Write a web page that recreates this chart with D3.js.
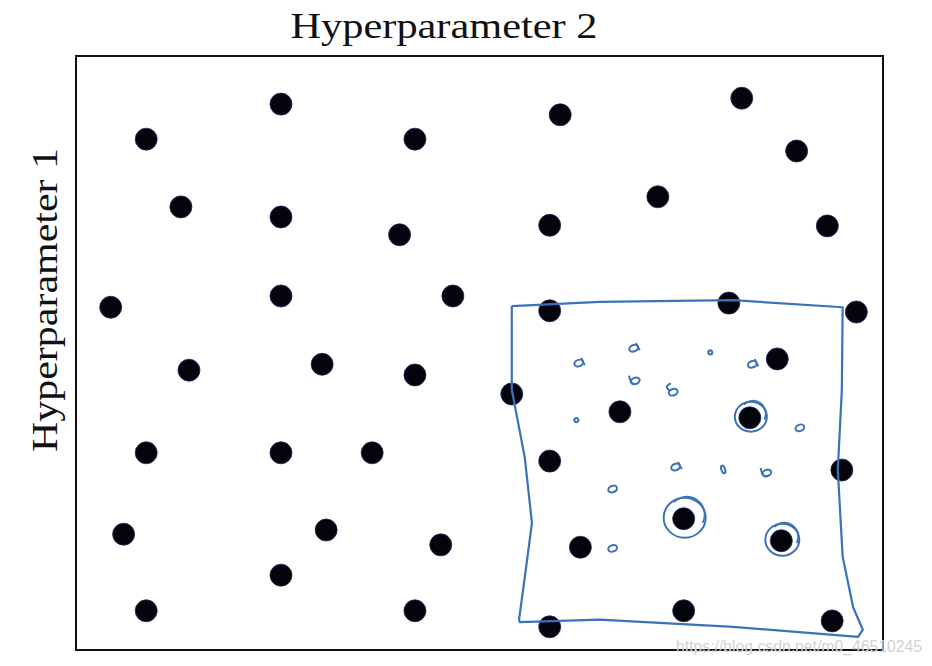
<!DOCTYPE html>
<meta charset="utf-8">
<style>
  body { margin: 0; background: #fff; }
  .title { font-family: 'Liberation Serif', serif; font-size: 36px; fill: #111; }
  .watermark { font-family: 'Liberation Sans', sans-serif; font-size: 16px; fill: #d2d2d2; }
</style>
<body>
  <div id="chart"></div>
  <script src="https://d3js.org/d3.v7.min.js"></script>
  <script>
    // grid search points (hyperparameter 2 on x, hyperparameter 1 on y), 0-10 units
    var hp2 = [0.87, 2.54, 4.20, 6.00, 8.25, 8.93,
               1.30, 2.54, 4.01, 5.87, 7.21, 9.31,
               0.43, 2.54, 4.67, 5.87, 8.09, 9.67,
               1.40, 3.05, 4.20, 5.40, 6.74, 8.69, 8.35,
               0.87, 2.54, 3.67, 5.87, 9.49,
               0.59, 3.10, 4.52, 6.25, 7.53, 8.74,
               2.54,
               0.87, 4.20, 5.87, 7.53, 9.37];
    var hp1 = [8.60, 9.19, 8.60, 9.01, 9.29, 8.40,
               7.46, 7.29, 6.99, 7.15, 7.63, 7.14,
               5.77, 5.96, 5.96, 5.71, 5.84, 5.69,
               4.71, 4.81, 4.63, 4.31, 4.01, 4.90, 3.91,
               3.32, 3.32, 3.32, 3.18, 3.03,
               1.95, 2.02, 1.77, 1.73, 2.21, 1.84,
               1.26,
               0.66, 0.66, 0.39, 0.66, 0.49];

    // hand drawn zoom-in region (coarse to fine)
    var boxX = [5.40, 6.49, 8.14, 9.50, 9.49, 9.44, 9.50, 9.63, 9.75, 9.69, 8.14, 6.49, 5.50, 5.49, 5.54, 5.65, 5.56, 5.40, 5.40];
    var boxY = [5.79, 5.86, 5.89, 5.77, 4.38, 3.03, 1.57, 0.72, 0.34, 0.22, 0.39, 0.51, 0.47, 0.51, 1.01, 2.14, 3.25, 4.38, 5.79];

    // finer samples scribbled inside the box
    var noteX = [6.23, 6.91, 7.86, 8.38, 6.93, 7.40, 6.20, 8.97, 7.43, 8.02, 8.56, 6.65, 6.65];
    var noteY = [4.83, 5.08, 5.01, 4.81, 4.53, 4.34, 3.87, 3.74, 3.08, 3.04, 2.98, 2.71, 1.71];

    // points circled as the best ones
    var bestX = [8.35, 7.53, 8.74];
    var bestY = [3.91, 2.21, 1.84];

    var width = 932, height = 666;
    var margin = { top: 56, right: 49, bottom: 16, left: 76 };
    var blue = "#3b72b8";

    var svg = d3.select("#chart").append("svg")
      .attr("width", width)
      .attr("height", height);

    var x = d3.scaleLinear().domain([0, 10]).range([margin.left, width - margin.right]);
    var y = d3.scaleLinear().domain([0, 10]).range([height - margin.bottom, margin.top]);

    // frame
    svg.append("rect")
      .attr("x", x(0)).attr("y", y(10))
      .attr("width", x(10) - x(0)).attr("height", y(0) - y(10))
      .attr("fill", "none").attr("stroke", "#111").attr("stroke-width", 2);

    // titles
    svg.append("text").attr("class", "title")
      .attr("x", 444).attr("y", 38)
      .attr("text-anchor", "middle")
      .attr("textLength", 307).attr("lengthAdjust", "spacingAndGlyphs")
      .text("Hyperparameter 2");

    svg.append("text").attr("class", "title")
      .attr("transform", "translate(57,300) rotate(-90)")
      .attr("text-anchor", "middle")
      .attr("textLength", 304).attr("lengthAdjust", "spacingAndGlyphs")
      .text("Hyperparameter 1");

    // dots
    var pts = hp2.map((d, i) => ({ x: d, y: hp1[i] }));
    svg.selectAll(".dot")
      .data(pts)
      .enter().append("circle")
      .attr("class", "dot")
      .attr("cx", d => x(d.x))
      .attr("cy", d => y(d.y))
      .attr("r", 11)
      .attr("fill", "#04040c")
      .attr("stroke", "#262660")
      .attr("stroke-width", 0.8);

    // blue box
    var boxLine = d3.line().x(d => x(d[0])).y(d => y(d[1])).curve(d3.curveLinear);
    svg.append("path")
      .datum(boxX.map((d, i) => [d, boxY[i]]))
      .attr("d", boxLine)
      .attr("fill", "none")
      .attr("stroke", blue)
      .attr("stroke-width", 2.2)
      .attr("stroke-linejoin", "round");

    // scribbled small samples
    var kinds = ["a", "a", "dot", "a", "u", "g", "dot", "o", "a", "i", "u", "o", "o"];
    var notes = svg.selectAll(".note")
      .data(noteX.map((d, i) => ({ x: d, y: noteY[i], k: kinds[i] })))
      .enter().append("g")
      .attr("class", "note")
      .attr("transform", d => "translate(" + x(d.x) + "," + y(d.y) + ") rotate(-20)");

    notes.append("ellipse")
      .attr("rx", d => d.k === "dot" ? 2 : d.k === "i" ? 1.8 : 4.5)
      .attr("ry", d => d.k === "dot" ? 2 : d.k === "i" ? 4 : 3.2)
      .attr("fill", "none")
      .attr("stroke", blue)
      .attr("stroke-width", 2);

    notes.filter(d => d.k === "a" || d.k === "g" || d.k === "u")
      .append("path")
      .attr("d", d => d.k === "u" ? "M-4,-7 Q-6,3 0,3" : d.k === "g" ? "M-3,-3 Q-7,-9 1,-9" : "M4,-4 L5,4")
      .attr("fill", "none")
      .attr("stroke", blue)
      .attr("stroke-width", 2);

    // circled best points
    var best = svg.selectAll(".best")
      .data(bestX.map((d, i) => ({ x: d, y: bestY[i], r: [16, 21, 17][i] })))
      .enter().append("g")
      .attr("class", "best")
      .attr("transform", d => "translate(" + x(d.x) + "," + y(d.y) + ")");

    best.append("ellipse")
      .attr("cx", 1).attr("cy", -1)
      .attr("rx", d => d.r).attr("ry", d => d.r - 1)
      .attr("fill", "none").attr("stroke", blue).attr("stroke-width", 2);

    best.append("path")
      .attr("d", d => {
        var p = d3.path();
        p.arc(3, -4, d.r - 3, -Math.PI * 0.75, Math.PI * 0.15);
        return p.toString();
      })
      .attr("fill", "none").attr("stroke", blue).attr("stroke-width", 1.8);

    // watermark
    svg.append("text").attr("class", "watermark")
      .attr("x", 676).attr("y", 652)
      .attr("textLength", 246).attr("lengthAdjust", "spacingAndGlyphs")
      .text("https://blog.csdn.net/m0_46510245");
  </script>
</body>
